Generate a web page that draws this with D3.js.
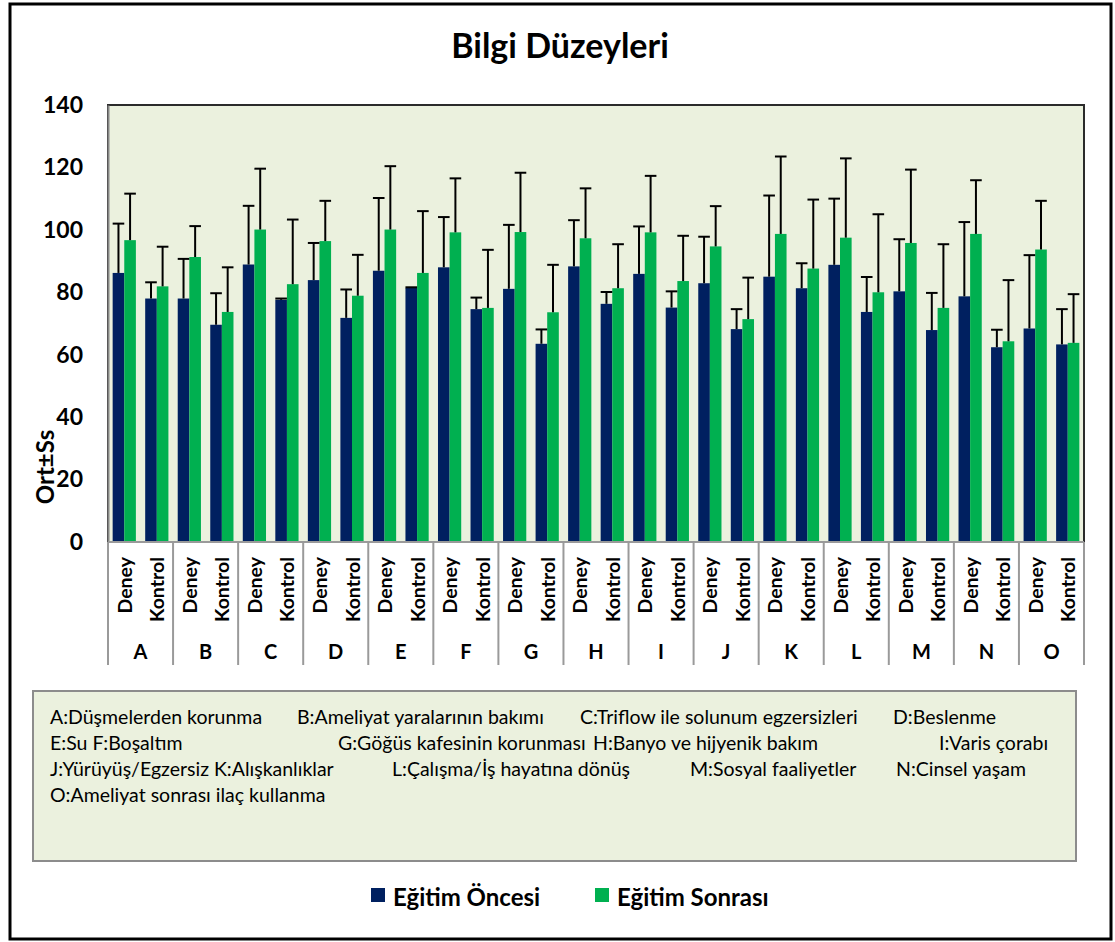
<!DOCTYPE html>
<html>
<head>
<meta charset="utf-8">
<script src="https://cdn.jsdelivr.net/npm/d3@7"></script>
<style>
    body { margin: 0; background: #ffffff; }
    svg { display: block; font-family: Lato, 'Open Sans', sans-serif; }
</style>
</head>
<body>
<div id="chart"></div>
<script>
// categories and sub categories
const categories = ['A', 'B', 'C', 'D', 'E', 'F', 'G', 'H', 'I', 'J', 'K', 'L', 'M', 'N', 'O'];
const groups = ['Deney', 'Kontrol'];
const seriesNames = ['Eğitim Öncesi', 'Eğitim Sonrası'];

// mean values, order: A-Deney, A-Kontrol, B-Deney, B-Kontrol ...
const oncesiMean = [86.2, 78.0, 78.0, 69.6, 88.9, 77.6, 83.9, 71.8, 86.9, 81.4,
    88.0, 74.6, 81.1, 63.5, 88.3, 76.3, 85.9, 75.1, 82.9, 68.2,
    85.0, 81.3, 88.8, 73.7, 80.3, 67.9, 78.7, 62.4, 68.4, 63.3];
const oncesiSd = [15.8, 5.2, 12.7, 10.1, 18.8, 0.4, 11.9, 9.1, 23.3, 0.2,
    16.1, 3.7, 20.5, 4.6, 14.8, 3.8, 15.2, 5.2, 14.9, 6.4,
    26.0, 8.0, 21.2, 11.2, 16.7, 11.9, 23.8, 5.6, 23.5, 11.3];
const sonrasiMean = [96.7, 81.9, 91.3, 73.7, 100.1, 82.6, 96.4, 78.9, 100.1, 86.2,
    99.2, 75.0, 99.3, 73.6, 97.3, 81.3, 99.2, 83.6, 94.7, 71.4,
    98.7, 87.6, 97.5, 80.0, 95.8, 75.0, 98.7, 64.3, 93.7, 63.8];
const sonrasiSd = [14.9, 12.7, 9.9, 14.3, 19.5, 20.7, 12.9, 13.1, 20.3, 19.8,
    17.3, 18.6, 19.0, 15.2, 16.0, 14.1, 18.1, 14.5, 12.9, 13.3,
    24.8, 22.1, 25.4, 25.0, 23.5, 20.4, 17.2, 19.6, 15.6, 15.6];

const yTicks = [0, 20, 40, 60, 80, 100, 120, 140];

// text box under the chart
const noteLines = [
    ['A:Düşmelerden korunma', 'B:Ameliyat yaralarının bakımı', 'C:Triflow ile solunum egzersizleri', 'D:Beslenme'],
    ['E:Su F:Boşaltım', 'G:Göğüs kafesinin korunması', 'H:Banyo ve hijyenik bakım', 'I:Varis çorabı'],
    ['J:Yürüyüş/Egzersiz K:Alışkanlıklar', 'L:Çalışma/İş hayatına dönüş', 'M:Sosyal faaliyetler', 'N:Cinsel yaşam'],
    ['O:Ameliyat sonrası ilaç kullanma']
];

document.addEventListener('DOMContentLoaded', () => {
    const W = 1115, H = 942;
    const colors = ['#002060', '#00b050'];
    const plot = { left: 108, top: 105, right: 1084, bottom: 542 };

    const svg = d3.select('#chart')
        .append('svg')
        .attr('width', W)
        .attr('height', H);

    // outer frame
    svg.append('rect')
        .attr('x', 10).attr('y', 4)
        .attr('width', 1101).attr('height', 935)
        .attr('fill', '#ffffff')
        .attr('stroke', '#000000')
        .attr('stroke-width', 3);

    svg.append('text')
        .attr('x', 560).attr('y', 58)
        .attr('text-anchor', 'middle')
        .style('font-weight', 'bold')
        .style('font-size', '34px')
        .text('Bilgi Düzeyleri');

    // slots: one per category x group
    const slots = [];
    categories.forEach(c => groups.forEach(g => slots.push(c + '|' + g)));

    const data = slots.map((s, i) => ({
        slot: s,
        values: [
            { series: 0, mean: oncesiMean[i], sd: oncesiSd[i] },
            { series: 1, mean: sonrasiMean[i], sd: sonrasiSd[i] }
        ]
    }));

    const xScale = d3.scaleBand()
        .domain(slots)
        .range([plot.left, plot.right])
        .paddingInner(0.286)
        .paddingOuter(0.143);

    const xInner = d3.scaleBand()
        .domain([0, 1])
        .range([0, xScale.bandwidth()]);

    const yScale = d3.scaleLinear()
        .domain([0, 140])
        .range([plot.bottom, plot.top]);

    // plot area
    svg.append('rect')
        .attr('x', plot.left).attr('y', plot.top)
        .attr('width', plot.right - plot.left)
        .attr('height', plot.bottom - plot.top)
        .attr('fill', '#ebf1de')
        .attr('stroke', '#2b2b2b')
        .attr('stroke-width', 2);

    const slotG = svg.selectAll('.slot')
        .data(data)
        .enter()
        .append('g')
        .attr('class', 'slot')
        .attr('transform', d => `translate(${xScale(d.slot)},0)`);

    slotG.selectAll('rect')
        .data(d => d.values)
        .enter()
        .append('rect')
        .attr('x', d => xInner(d.series))
        .attr('y', d => yScale(d.mean))
        .attr('width', xInner.bandwidth())
        .attr('height', d => yScale(0) - yScale(d.mean))
        .attr('fill', d => colors[d.series]);

    // error bars (upper side only)
    const err = slotG.selectAll('.err')
        .data(d => d.values)
        .enter()
        .append('g')
        .attr('class', 'err')
        .attr('stroke', '#000000')
        .attr('stroke-width', 2);

    err.append('line')
        .attr('x1', d => xInner(d.series) + xInner.bandwidth() / 2)
        .attr('x2', d => xInner(d.series) + xInner.bandwidth() / 2)
        .attr('y1', d => yScale(d.mean))
        .attr('y2', d => yScale(d.mean + d.sd));

    err.append('line')
        .attr('x1', d => xInner(d.series))
        .attr('x2', d => xInner(d.series) + xInner.bandwidth())
        .attr('y1', d => yScale(d.mean + d.sd))
        .attr('y2', d => yScale(d.mean + d.sd));

    // y axis
    const yAxis = d3.axisLeft(yScale).tickValues(yTicks).tickSize(0).tickPadding(25);
    const yAxisGroup = svg.append('g')
        .attr('class', 'y-axis')
        .attr('transform', `translate(${plot.left},0)`)
        .call(yAxis);
    yAxisGroup.select('.domain').attr('stroke', '#868686').attr('stroke-width', 2);
    yAxisGroup.selectAll('text')
        .attr('fill', '#000000')
        .style('font-family', 'Lato, sans-serif')
        .style('font-weight', 'bold')
        .style('font-size', '23px');

    svg.append('text')
        .attr('transform', 'translate(44,467) rotate(-90)')
        .attr('text-anchor', 'middle')
        .attr('dominant-baseline', 'central')
        .style('font-weight', 'bold')
        .style('font-size', '24px')
        .text('Ort±Ss');

    // multi level category axis
    const catScale = d3.scaleBand().domain(categories).range([plot.left, plot.right]);
    const axisLine = svg.append('g').attr('stroke', '#9a9a9a').attr('stroke-width', 2);
    axisLine.append('line')
        .attr('x1', plot.left).attr('x2', plot.right)
        .attr('y1', plot.bottom).attr('y2', plot.bottom);
    axisLine.selectAll('.sep')
        .data(categories.concat(['end']))
        .enter()
        .append('line')
        .attr('class', 'sep')
        .attr('x1', (d, i) => plot.left + i * catScale.bandwidth())
        .attr('x2', (d, i) => plot.left + i * catScale.bandwidth())
        .attr('y1', plot.bottom)
        .attr('y2', 665);

    svg.selectAll('.sub-label')
        .data(slots)
        .enter()
        .append('text')
        .attr('class', 'sub-label')
        .attr('transform', d => `translate(${xScale(d) + xScale.bandwidth() / 2},557) rotate(-90)`)
        .attr('text-anchor', 'end')
        .attr('dominant-baseline', 'central')
        .style('font-weight', 'bold')
        .style('font-size', '19.5px')
        .text(d => d.split('|')[1]);

    svg.selectAll('.cat-label')
        .data(categories)
        .enter()
        .append('text')
        .attr('class', 'cat-label')
        .attr('x', d => catScale(d) + catScale.bandwidth() / 2)
        .attr('y', 651)
        .attr('text-anchor', 'middle')
        .attr('dominant-baseline', 'central')
        .style('font-weight', 'bold')
        .style('font-size', '20px')
        .text(d => d);

    // note box
    svg.append('rect')
        .attr('x', 33).attr('y', 691)
        .attr('width', 1043).attr('height', 170)
        .attr('fill', '#ebf1de')
        .attr('stroke', '#8c8c8c')
        .attr('stroke-width', 2);

    const noteX = [[50, 297, 580, 893], [50, 338, 593, 939], [50, 392, 690, 896], [50]];
    noteLines.forEach((line, li) => {
        svg.append('g')
            .selectAll('text')
            .data(line)
            .enter()
            .append('text')
            .attr('x', (d, i) => noteX[li][i])
            .attr('y', 716 + li * 26)
            .attr('dominant-baseline', 'central')
            .style('font-size', '19.5px')
            .text(d => d);
    });

    // legend
    const legendX = [371, 595];
    const legend = svg.selectAll('.legend')
        .data(seriesNames)
        .enter()
        .append('g')
        .attr('class', 'legend')
        .attr('transform', (d, i) => `translate(${legendX[i]},888)`);
    legend.append('rect')
        .attr('width', 14).attr('height', 14)
        .attr('fill', (d, i) => colors[i]);
    legend.append('text')
        .attr('x', 22).attr('y', 8)
        .attr('dominant-baseline', 'central')
        .style('font-weight', 'bold')
        .style('font-size', '24px')
        .text(d => d);
});
</script>
</body>
</html>
